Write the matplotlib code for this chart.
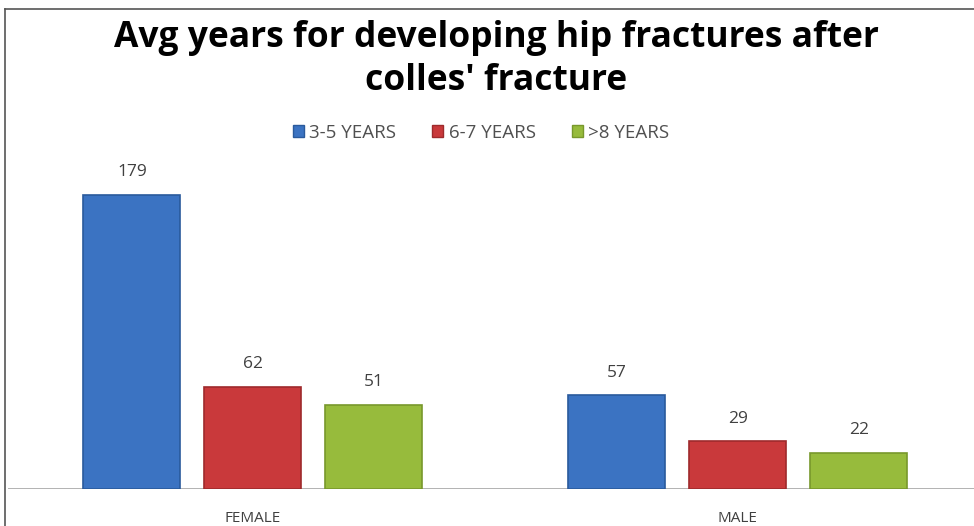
import numpy as np
import matplotlib.pyplot as plt
from matplotlib.lines import Line2D
from matplotlib.patches import Patch

groups = ["FEMALE", "MALE"]
series = ["3-5 YEARS", "6-7 YEARS", ">8 YEARS"]
vals_35 = [179, 57]
vals_67 = [62, 29]
vals_8 = [51, 22]
colors = ["#3b73c2", "#c9393b", "#97bb3c"]
edges = ["#2a5a9c", "#9e2a2c", "#78982c"]

W, H = 974, 526
fig = plt.figure(figsize=(W / 100, H / 100), dpi=100)
fig.patch.set_facecolor("white")

# axes placed in pixel coords: baseline at y=489, top at y=9
ax = fig.add_axes([8 / W, (H - 489) / H, (W - 8) / W, 480 / H])
ax.set_xlim(-0.505, 1.487)
ax.set_ylim(0, 480 / 1.642)
for s in ax.spines.values():
    s.set_visible(False)
ax.set_xticks([])
ax.set_yticks([])
ax.axhline(0, color="#a6a6a6", lw=1.2, zorder=1)

x = np.arange(len(groups))
pitch = 0.2495
width = 0.2
for i, (vals, c, e) in enumerate(zip([vals_35, vals_67, vals_8], colors, edges)):
    xs = x + (i - 1) * pitch
    ax.bar(xs, vals, width, color=c, edgecolor=e, linewidth=1.2, zorder=2)
    for xi, v in zip(xs, vals):
        ax.text(xi, v + 9, str(v), ha="center", va="bottom", fontsize=12.5,
                color="#404040", family="Open Sans")

for xi, g in zip(x, groups):
    ax.text(xi, -13.5, g, ha="center", va="top", fontsize=11, color="#404040",
            family="Open Sans", clip_on=False)

fig.text(496 / W, 1 - 38 / H, "Avg years for developing hip fractures after",
         ha="center", va="center", fontsize=25.5, fontweight="bold",
         family="Open Sans", color="black")
fig.text(496 / W, 1 - 81 / H, "colles' fracture", ha="center", va="center",
         fontsize=25.5, fontweight="bold", family="Open Sans", color="black")

handles = [Patch(facecolor=c, edgecolor=e) for c, e in zip(colors, edges)]
fig.legend(handles, series, loc="center", bbox_to_anchor=(481 / W, 1 - 133 / H),
           ncol=3, frameon=False, handlelength=0.6,
           handleheight=0.6, handletextpad=0.3, columnspacing=1.9,
           labelcolor="#505050", prop={"family": "Open Sans", "size": 13.5})

# frame lines at left and top
fig.add_artist(Line2D([5 / W, 5 / W], [0, 1 - 9 / H], color="#555555", lw=1.2))
fig.add_artist(Line2D([5 / W, 1], [1 - 9 / H, 1 - 9 / H], color="#555555", lw=1.2))

fig.savefig("out.png", dpi=100)
